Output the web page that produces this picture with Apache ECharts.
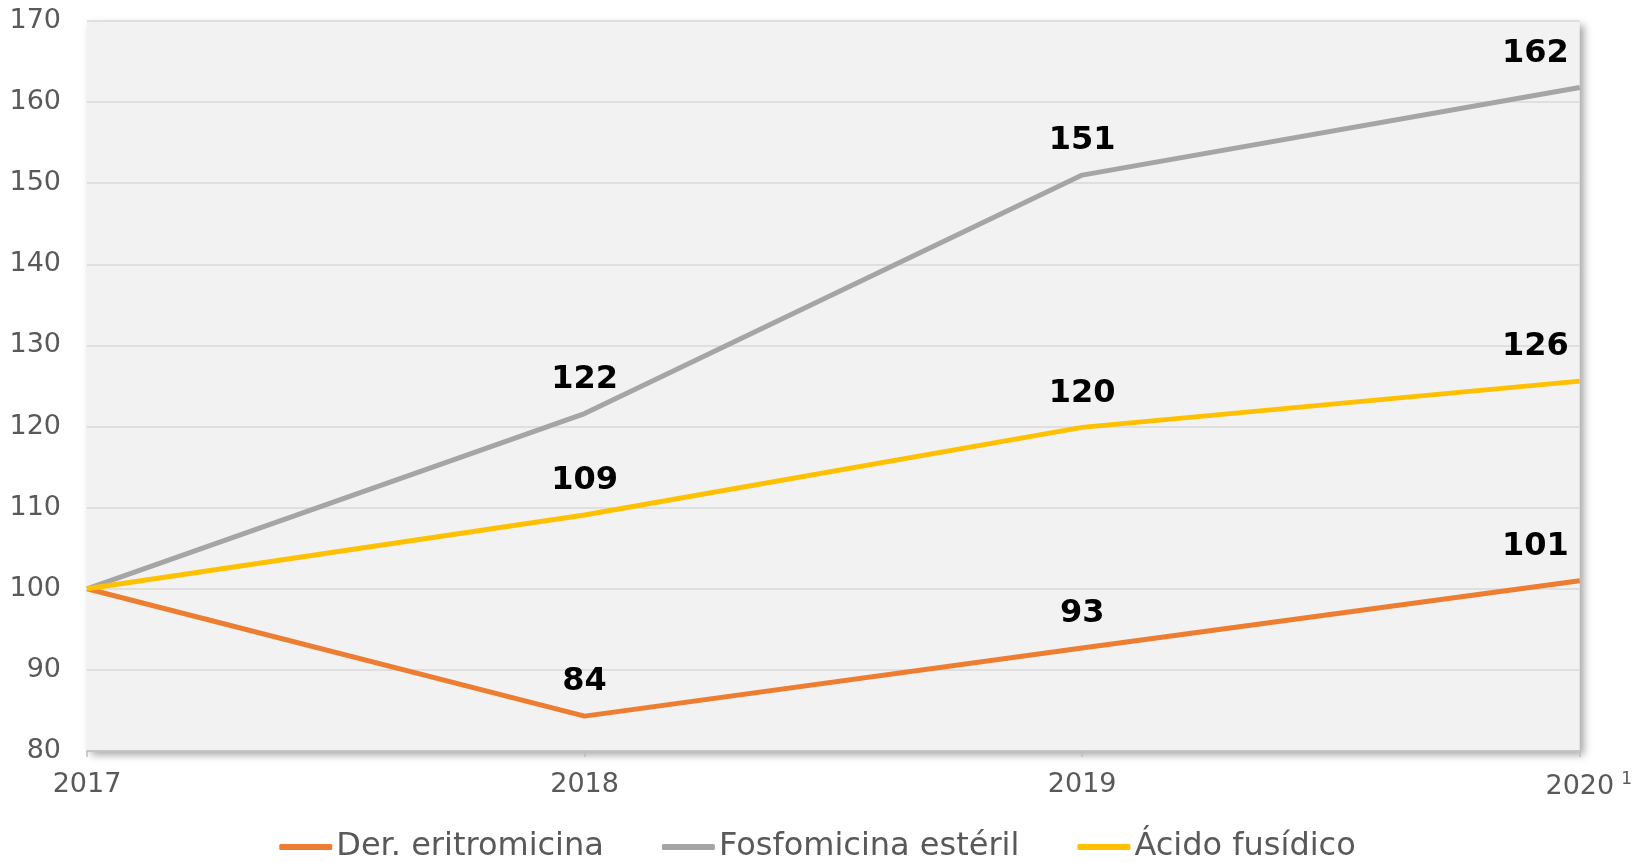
<!DOCTYPE html>
<html>
<head>
<meta charset="utf-8">
<script src="https://cdn.jsdelivr.net/npm/echarts@6/dist/echarts.min.js"></script>
<style>
    html, body { margin: 0; padding: 0; background: #fff; }
    #chart { width: 1635px; height: 863px; }
</style>
</head>
<body>
<div id="chart"></div>
<script>
    // 数据
    var years = ['2017', '2018', '2019', '2020'];
    var yTicks = [80, 90, 100, 110, 120, 130, 140, 150, 160, 170];
    var eritromicina = [100, 84.3, 92.7, 101.0];
    var fosfomicina = [100, 121.6, 151.0, 161.8];
    var fusidico = [100, 109.1, 119.9, 125.6];

    var seriesNames = ['Der. eritromicina', 'Fosfomicina estéril', 'Ácido fusídico'];
    var colors = ['#ED7D31', '#A5A5A5', '#FFC000'];

    var font = 'DejaVu Sans, Verdana, sans-serif';
    var chart = echarts.init(document.getElementById('chart'));

    function buildData(values) {
        return values.map(function(v, i) {
            var item = { value: v };
            if (i === 0) {
                item.label = { show: false };
            } else if (i === values.length - 1) {
                item.label = { align: 'right', offset: [-11, 0] };
            }
            return item;
        });
    }

    function lineSeries(name, values, color) {
        return {
            name: name,
            type: 'line',
            data: buildData(values),
            symbol: 'circle',
            symbolSize: 0.1,
            showSymbol: true,
            lineStyle: { color: color, width: 5 },
            itemStyle: { color: color },
            label: {
                show: true,
                position: 'top',
                distance: 18,
                color: '#000',
                fontFamily: font,
                fontWeight: 'bold',
                fontSize: 32,
                formatter: function(p) { return Math.round(p.value); }
            },
            emphasis: { disabled: true },
            z: 3
        };
    }

    var option = {
        animation: false,
        color: colors,
        grid: {
            left: 87,
            right: 52,
            top: 21,
            bottom: 112,
            show: true,
            backgroundColor: '#F2F2F2',
            borderWidth: 0,
            shadowColor: 'rgba(0,0,0,0.35)',
            shadowBlur: 8,
            shadowOffsetX: 4,
            shadowOffsetY: 4
        },
        legend: {
            data: seriesNames,
            left: 'center',
            top: 826,
            icon: 'roundRect',
            itemWidth: 53,
            itemHeight: 6,
            itemGap: 58,
            textStyle: { color: '#595959', fontFamily: font, fontSize: 32, padding: [0, 0, 0, -1] }
        },
        xAxis: {
            type: 'category',
            boundaryGap: false,
            data: years,
            axisLine: { show: true, lineStyle: { color: '#BFBFBF', width: 1.5 } },
            axisTick: { show: true, length: 6, inside: false, lineStyle: { color: '#BFBFBF', width: 1.5 } },
            splitLine: { show: false },
            axisLabel: {
                color: '#595959',
                fontFamily: font,
                fontSize: 27,
                margin: 20,
                formatter: function(v, i) {
                    return i === years.length - 1 ? '{pad|}' + v + '{sup|1}' : v;
                },
                rich: {
                    pad: { width: 18 },
                    sup: { fontSize: 17, color: '#595959', fontFamily: font, verticalAlign: 'top', padding: [0, 0, 14, 7] }
                }
            }
        },
        yAxis: {
            type: 'value',
            min: yTicks[0],
            max: yTicks[yTicks.length - 1],
            interval: 10,
            axisLine: { show: false },
            axisTick: { show: false },
            splitLine: { show: true, lineStyle: { color: '#D9D9D9', width: 1.5 } },
            axisLabel: { color: '#595959', fontFamily: font, fontSize: 27, margin: 26 }
        },
        series: [
            lineSeries(seriesNames[0], eritromicina, colors[0]),
            lineSeries(seriesNames[1], fosfomicina, colors[1]),
            lineSeries(seriesNames[2], fusidico, colors[2])
        ]
    };

    chart.setOption(option);

    window.addEventListener('resize', function() {
        chart.resize();
    });
</script>
</body>
</html>
